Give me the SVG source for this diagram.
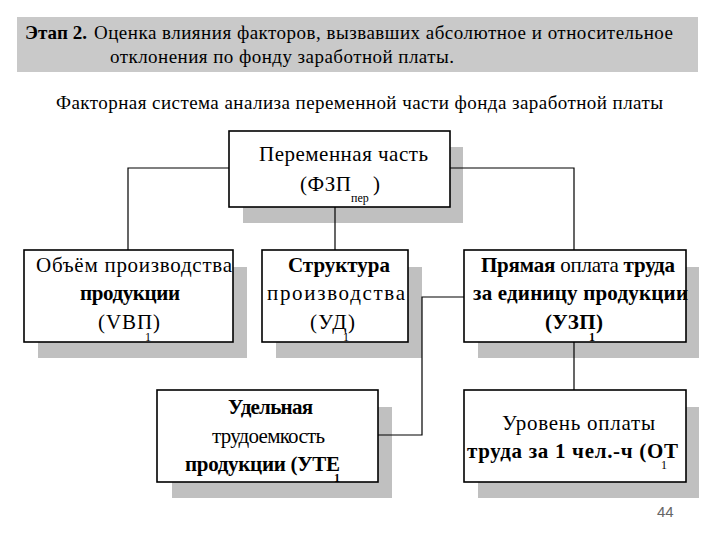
<svg xmlns="http://www.w3.org/2000/svg" width="720" height="540" viewBox="0 0 720 540">
<style>
.t{font-family:"Liberation Serif","Times New Roman",serif;fill:#000}
.n{font-size:21px}
.s{font-size:12px}
.b{font-weight:bold}
.shadow{fill:#c0c0c0}
.box{fill:#fff;stroke:#000;stroke-width:1.6}
.con{fill:none;stroke:#000;stroke-width:1.2}
</style>
<rect width="720" height="540" fill="#fff"/>
<g id="header">
<rect x="17" y="17" width="681" height="55" fill="#c9c9c9"/>
<text class="t b" x="25" y="39" font-size="19" textLength="62" lengthAdjust="spacing">Этап 2.</text>
<text class="t" x="94" y="39" font-size="19" textLength="579" lengthAdjust="spacing">Оценка влияния факторов, вызвавших абсолютное и относительное</text>
<text class="t" x="110" y="63" font-size="19" textLength="344" lengthAdjust="spacing">отклонения по фонду заработной платы.</text>
</g>
<g id="title">
<text class="t" x="56" y="109" font-size="19" textLength="607" lengthAdjust="spacing">Факторная система анализа переменной части фонда заработной платы</text>
</g>
<g id="node-fzp">
<rect class="shadow" x="243" y="147" width="220" height="76"/>
<rect class="box" x="229" y="131" width="221" height="76"/>
<text class="t n" x="259" y="161" textLength="169" lengthAdjust="spacing">Переменная часть</text>
<text class="t n" x="300" y="191" textLength="51" lengthAdjust="spacing">(ФЗП</text>
<text class="t s" x="351" y="202">пер</text>
<text class="t n" x="373" y="191">)</text>
</g>
<g id="node-vvp">
<rect class="shadow" x="38" y="267" width="209" height="91"/>
<rect class="box" x="24" y="250" width="209" height="92"/>
<text class="t n" x="36" y="272" textLength="196" lengthAdjust="spacing">Объём производства</text>
<text class="t n b" x="80" y="300" textLength="100" lengthAdjust="spacing">продукции</text>
<text class="t n" x="98" y="329" textLength="62" lengthAdjust="spacing">(VBП)</text>
<text class="t s" x="145" y="341">1</text>
</g>
<g id="node-ud">
<rect class="shadow" x="276" y="267" width="146" height="91"/>
<rect class="box" x="262" y="250" width="146" height="92"/>
<text class="t n b" x="288" y="272" textLength="102" lengthAdjust="spacing">Структура</text>
<text class="t n" x="267" y="300" textLength="138" lengthAdjust="spacing">производства</text>
<text class="t n" x="310" y="329" textLength="45" lengthAdjust="spacing">(УД)</text>
<text class="t s" x="343" y="341">1</text>
</g>
<g id="node-uzp">
<rect class="shadow" x="478" y="267" width="221" height="91"/>
<rect class="box" x="464" y="250" width="222" height="92"/>
<text class="t n" x="481" y="272" textLength="194" lengthAdjust="spacing"><tspan class="b">Прямая</tspan> оплата <tspan class="b">труда</tspan></text>
<text class="t n b" x="473" y="300" textLength="215" lengthAdjust="spacing">за единицу продукции</text>
<text class="t n b" x="545" y="329" textLength="58" lengthAdjust="spacing">(УЗП)</text>
<text class="t s b" x="589" y="341">1</text>
</g>
<g id="node-ute">
<rect class="shadow" x="172" y="407" width="220" height="91"/>
<rect class="box" x="157" y="390" width="221" height="92"/>
<text class="t n b" x="228" y="414" textLength="85" lengthAdjust="spacing">Удельная</text>
<text class="t n" x="212" y="443" textLength="113" lengthAdjust="spacing">трудоемкость</text>
<text class="t n b" x="185" y="471" textLength="155" lengthAdjust="spacing">продукции (УТЕ</text>
<text class="t s b" x="334" y="482">1</text>
</g>
<g id="node-ot">
<rect class="shadow" x="478" y="407" width="221" height="91"/>
<rect class="box" x="464" y="390" width="222" height="92"/>
<text class="t n" x="502" y="430" textLength="153" lengthAdjust="spacing">Уровень оплаты</text>
<text class="t n b" x="467" y="458" textLength="211" lengthAdjust="spacing">труда за 1 чел.-ч (ОТ</text>
<text class="t s" x="661" y="469">1</text>
</g>
<g id="connectors">
<polyline class="con" points="229,168 128,168 128,250"/>
<polyline class="con" points="450,168 574,168 574,250"/>
<line class="con" x1="335" y1="207" x2="335" y2="250"/>
<polyline class="con" points="464,297 422,297 422,435 378,435"/>
<line class="con" x1="574" y1="342" x2="574" y2="390"/>
</g>
<text x="657" y="517" font-family="Liberation Sans, Arial, sans-serif" font-size="15" fill="#666">44</text>
</svg>
